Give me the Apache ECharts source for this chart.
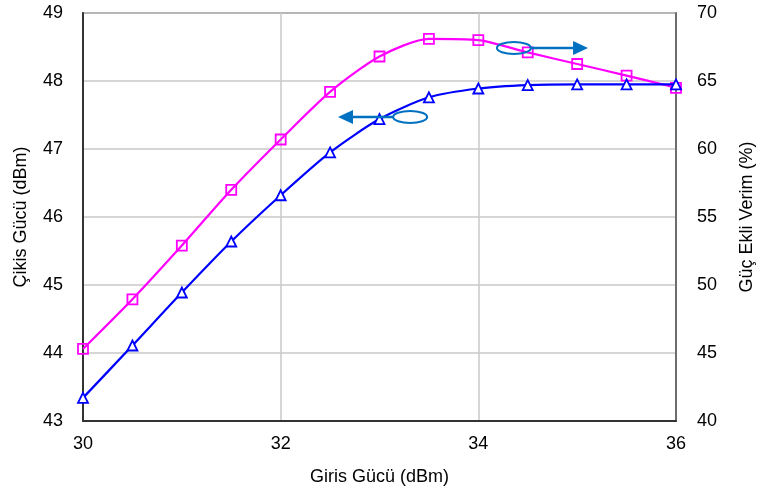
<!DOCTYPE html>
<html>
<head>
<meta charset="utf-8">
<script src="https://cdn.jsdelivr.net/npm/echarts@6/dist/echarts.min.js"></script>
<style>
  html, body { margin: 0; padding: 0; background: #fff; }
  #chart { width: 757px; height: 493px; }
</style>
</head>
<body>
<div id="chart"></div>
<script>
// Input power sweep (dBm)
const inputPower = [30, 30.5, 31, 31.5, 32, 32.5, 33, 33.5, 34, 34.5, 35, 35.5, 36];
// Output power (dBm), left axis
const outputPower = [43.34, 44.11, 44.89, 45.64, 46.32, 46.95, 47.44, 47.76, 47.89, 47.94, 47.95, 47.95, 47.95];
// Power-added efficiency (%), right axis
const pae = [45.3, 48.95, 52.9, 57.0, 60.7, 64.2, 66.8, 68.1, 68.0, 67.1, 66.25, 65.4, 64.5];

// Axis tick settings
const xTicks = { min: 30, max: 36, interval: 2 };
const leftTicks = { min: 43, max: 49, interval: 1 };
const rightTicks = { min: 40, max: 70, interval: 5 };

// Callouts pointing each curve to its axis: ellipse centre and arrow tip (data units)
const outputCallout = { x: 33.31, y: 47.47, tipX: 32.58, yAxisIndex: 0 };
const paeCallout = { x: 34.36, y: 67.43, tipX: 35.11, yAxisIndex: 1 };

const FONT = 'Liberation Sans, Arial, sans-serif';
const TXT = '#000';
const FS = 18;

const chart = echarts.init(document.getElementById('chart'), null, { renderer: 'canvas' });

chart.setOption({
  animation: false,
  backgroundColor: '#fff',
  grid: {
    left: 83, right: 81, top: 13, bottom: 72,
    containLabel: false,
    outerBoundsMode: 'none',
    show: true, borderColor: '#555', borderWidth: 1.5
  },
  xAxis: {
    type: 'value',
    min: xTicks.min, max: xTicks.max, interval: xTicks.interval,
    name: 'Giris Gücü (dBm)',
    nameLocation: 'middle', nameGap: 47,
    nameTextStyle: { fontFamily: FONT, fontSize: FS, color: TXT },
    axisLine: { lineStyle: { color: '#333', width: 2 } },
    axisTick: { show: false },
    axisLabel: { fontFamily: FONT, fontSize: FS, color: TXT, margin: 14 },
    splitLine: { show: true, lineStyle: { color: '#c8c8c8', width: 1.5 } }
  },
  yAxis: [
    {
      type: 'value',
      min: leftTicks.min, max: leftTicks.max, interval: leftTicks.interval,
      name: 'Çikis Gücü (dBm)',
      nameLocation: 'middle', nameGap: 53,
      nameTextStyle: { fontFamily: FONT, fontSize: FS, color: TXT },
      axisLine: { show: true, lineStyle: { color: '#333', width: 2 } },
      axisTick: { show: false },
      axisLabel: { fontFamily: FONT, fontSize: FS, color: TXT, margin: 20 },
      splitLine: { show: true, lineStyle: { color: '#c8c8c8', width: 1.5 } }
    },
    {
      type: 'value',
      position: 'right',
      min: rightTicks.min, max: rightTicks.max, interval: rightTicks.interval,
      name: 'Güç Ekli Verim (%)',
      nameLocation: 'middle', nameGap: 62,
      nameTextStyle: { fontFamily: FONT, fontSize: FS, color: TXT },
      axisLine: { show: true, lineStyle: { color: '#555', width: 1.5 } },
      axisTick: { show: false },
      axisLabel: { fontFamily: FONT, fontSize: FS, color: TXT, margin: 21 },
      splitLine: { show: false }
    }
  ],
  series: [
    {
      name: 'Çikis Gücü',
      type: 'line',
      yAxisIndex: 0,
      data: inputPower.map((x, i) => [x, outputPower[i]]),
      smooth: 0.25,
      symbol: 'triangle',
      symbolSize: 10,
      lineStyle: { color: '#0000ff', width: 2.2 },
      itemStyle: { color: '#fff', borderColor: '#0000ff', borderWidth: 1.8 },
      z: 3
    },
    {
      name: 'Güç Ekli Verim',
      type: 'line',
      yAxisIndex: 1,
      data: inputPower.map((x, i) => [x, pae[i]]),
      smooth: 0.25,
      symbol: 'rect',
      symbolSize: 10,
      lineStyle: { color: '#ff00ff', width: 2.2 },
      itemStyle: { color: 'rgba(255,255,255,0)', borderColor: '#ff00ff', borderWidth: 1.8 },
      z: 2
    }
  ]
});

// Build the ellipse-and-arrow callouts from axis coordinates
function callout(c, dir) {
  const center = chart.convertToPixel({ xAxisIndex: 0, yAxisIndex: c.yAxisIndex }, [c.x, c.y]);
  const tip = chart.convertToPixel({ xAxisIndex: 0, yAxisIndex: c.yAxisIndex }, [c.tipX, c.y]);
  const rx = 17, ry = 6, head = 15, half = 7;
  const color = '#0070c0';
  const startX = center[0] + dir * rx;
  const baseX = tip[0] - dir * head;
  return [
    {
      type: 'ellipse',
      shape: { cx: center[0], cy: center[1], rx: rx, ry: ry },
      style: { fill: 'none', stroke: color, lineWidth: 2 },
      z: 10
    },
    {
      type: 'line',
      shape: { x1: startX, y1: center[1], x2: baseX, y2: center[1] },
      style: { stroke: color, lineWidth: 2.5 },
      z: 10
    },
    {
      type: 'polygon',
      shape: { points: [[tip[0], center[1]], [baseX, center[1] - half], [baseX, center[1] + half]] },
      style: { fill: color },
      z: 10
    }
  ];
}

chart.setOption({
  graphic: [].concat(callout(outputCallout, -1), callout(paeCallout, 1))
});
</script>
</body>
</html>
